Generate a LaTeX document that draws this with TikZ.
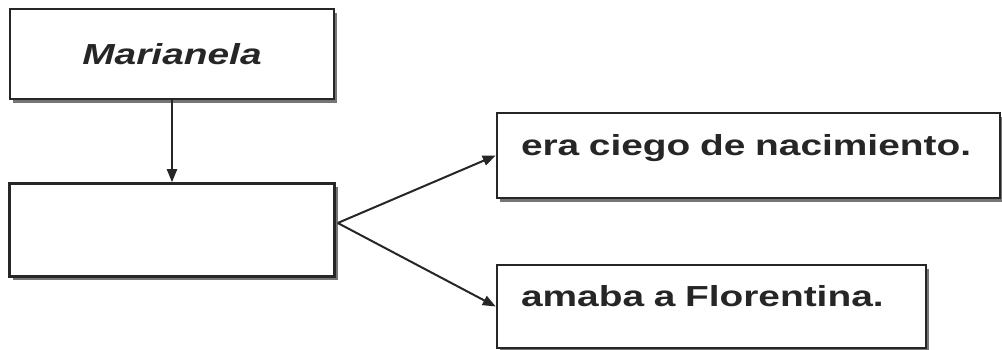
\documentclass[tikz,border=0pt]{standalone}
\usepackage{fontspec}
\newfontfamily\boxfont[FakeStretch=1.34]{Liberation Sans}
\usetikzlibrary{positioning,shadows,arrows.meta}
\tikzset{
  box/.style={rectangle, draw=black!85, line width=2.5pt, fill=white,
    drop shadow={shadow xshift=3pt, shadow yshift=-4pt, fill=black!60, opacity=.9},
    font=\boxfont\bfseries\fontsize{29pt}{33pt}\selectfont, text=black!85},
  leftbox/.style={box, align=left, inner xsep=24pt, text height=6pt, text depth=6pt},
  link/.style={draw=black!85, line width=2pt, -{Triangle[length=13pt,width=10pt]}},
}

\begin{document}
\begin{tikzpicture}
  \useasboundingbox[fill=white] (0,0) rectangle (1002pt,350pt);

  \node[box, minimum width=324pt, minimum height=90pt] (mari) at (172pt,296pt) {\itshape Marianela};
  \node[box, minimum width=325pt, minimum height=93pt, below=82pt of mari] (blank) {};
  \node[leftbox, text width=455pt, minimum height=85pt] (ciego) at (748.5pt,194.5pt) {era ciego de nacimiento.};
  \node[leftbox, text width=381pt, minimum height=83pt] (flor) at (711.5pt,43.5pt) {amaba a Florentina.};

  \coordinate (fork) at ([xshift=2pt,yshift=7pt]blank.east);
  \draw[link] (mari) -- (blank);
  \draw[link] (fork) -- (ciego.west);
  \draw[link] (fork) -- (flor.west);

\end{tikzpicture}
\end{document}
